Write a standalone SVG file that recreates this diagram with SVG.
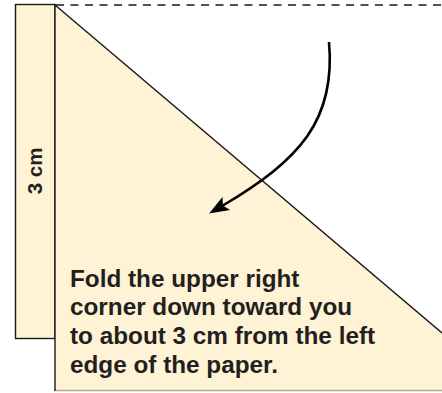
<svg xmlns="http://www.w3.org/2000/svg" width="442" height="393" viewBox="0 0 442 393">
  <style>
    .paper { fill: #FEF3D5; }
    .edge { fill: none; stroke: #1a1a1a; stroke-width: 1.4; }
    .label { font-family: "Liberation Sans", Arial, sans-serif; font-weight: bold; fill: #231f20; }
  </style>
  <defs>
    <marker id="head" markerUnits="userSpaceOnUse" markerWidth="30" markerHeight="30" refX="0" refY="0" orient="auto" overflow="visible">
      <path d="M15,0 L-5,-7.5 L-1,0 L-5,7.5 Z" fill="#000"/>
    </marker>
  </defs>
  <rect width="442" height="393" fill="#fff"/>
  <g id="strip">
    <rect class="paper" x="15.5" y="4.5" width="39.5" height="334"/>
    <rect class="edge" x="15.5" y="4.5" width="39.5" height="334"/>
    <text class="label" font-size="20.5" text-anchor="middle" transform="translate(42 171) rotate(-90)">3 cm</text>
  </g>
  <g id="folded-paper">
    <path class="paper" d="M55,5 L442,333 L442,391 L55,391 Z"/>
    <line x1="55" y1="390.5" x2="442" y2="390.5" stroke="#b3a890" stroke-width="1.5"/>
    <path class="edge" d="M55,391 L55,5 L442,333"/>
    <line x1="56" y1="5" x2="442" y2="5" stroke="#1a1a1a" stroke-width="1.3" stroke-dasharray="8 6.5"/>
    <text class="label" font-size="24.3" x="70">
      <tspan x="70" y="286.5">Fold the upper right</tspan>
      <tspan x="70" y="315">corner down toward you</tspan>
      <tspan x="70" y="343.5">to about 3 cm from the left</tspan>
      <tspan x="70" y="372.5">edge of the paper.</tspan>
    </text>
  </g>
  <g id="connectors">
    <path d="M329,42 C336,120 300,160 222,206" fill="none" stroke="#000" stroke-width="2.6" marker-end="url(#head)"/>
  </g>
</svg>
